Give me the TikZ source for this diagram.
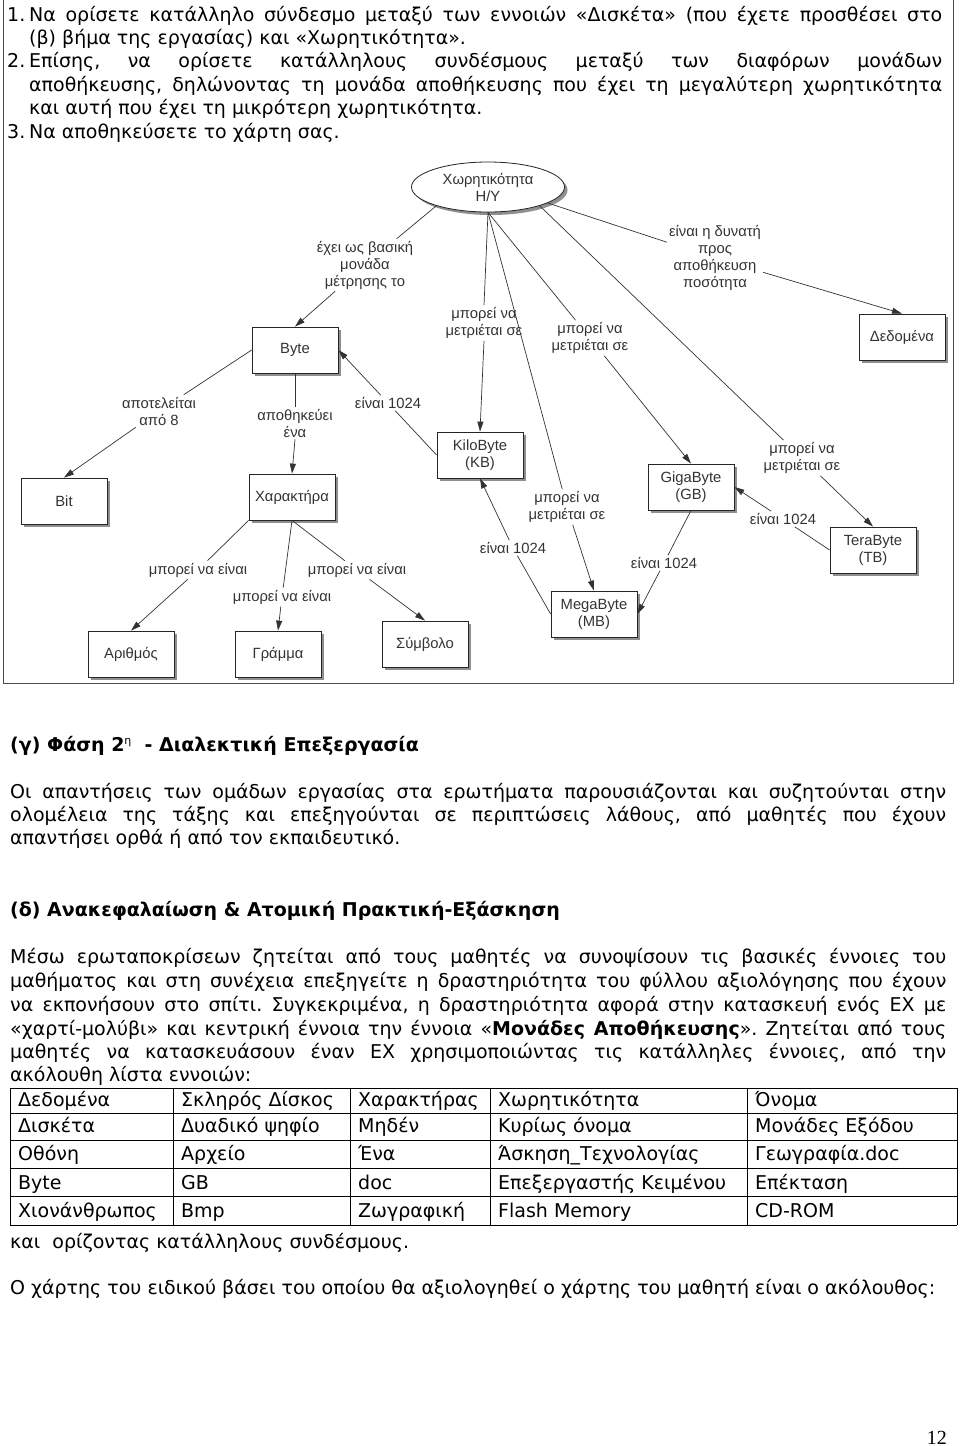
\documentclass[tikz,border=0pt]{standalone}
\usepackage{fontspec}
\setmainfont{DejaVu Sans}
\newfontfamily\mapfont{Liberation Sans}
\newfontfamily\pnfont{Liberation Serif}
\usetikzlibrary{shapes.geometric,arrows.meta,shadows}
\frenchspacing
\tikzset{
  txt/.style={anchor=base west, inner sep=0pt, font=\frenchspacing\fontsize{19}{23}\selectfont},
  cell/.style={anchor=base west, inner sep=0pt, font=\fontsize{19}{23}\selectfont},
  shad/.style={drop shadow={shadow xshift=3pt, shadow yshift=-3pt, fill=black!55, opacity=0.8}},
  box/.style={draw=black!85, line width=0.8pt, fill=white, minimum width=86pt, minimum height=46pt,
    inner sep=2pt, align=center, font=\mapfont\fontsize{14.8}{17}\selectfont, text=black!80, shad},
  ell/.style={ellipse, draw=black!85, line width=0.8pt, fill=white, minimum width=153pt, minimum height=50pt,
    inner sep=0pt, align=center, font=\mapfont\fontsize{14.8}{17}\selectfont, text=black!80, shad},
  lbl/.style={inner sep=2pt, align=center, font=\mapfont\fontsize{14.8}{17}\selectfont, text=black!80},
  con/.style={draw=black!80, line width=0.7pt},
  arr/.style={con, -{Triangle[length=10pt,width=6pt]}},
}
\begin{document}
\begin{tikzpicture}[x=1pt,y=-1pt]
\useasboundingbox (0,0) rectangle (960,1446);
\fill[white] (0,0) rectangle (960,1446);

% ---------- instructions ----------
\node[txt] (n1) at (7,21) {1.};
\node[txt] (t1) at (29,21) {\makebox[913pt][s]{Να ορίσετε κατάλληλο σύνδεσμο μεταξύ των εννοιών «Δισκέτα» (που έχετε προσθέσει στο}};
\node[txt] (t2) at (29,44.4) {(β) βήμα της εργασίας) και «Χωρητικότητα».};
\node[txt] (n2) at (7,67.8) {2.};
\node[txt] (t3) at (29,67.8) {\makebox[913pt][s]{Επίσης, να ορίσετε κατάλληλους συνδέσμους μεταξύ των διαφόρων μονάδων}};
\node[txt] (t4) at (29,91.2) {\makebox[913pt][s]{αποθήκευσης, δηλώνοντας τη μονάδα αποθήκευσης που έχει τη μεγαλύτερη χωρητικότητα}};
\node[txt] (t5) at (29,114.6) {και αυτή που έχει τη μικρότερη χωρητικότητα.};
\node[txt] (n3) at (7,138) {3.};
\node[txt] (t6) at (29,138) {Να αποθηκεύσετε το χάρτη σας.};

% ---------- frame ----------
\draw[black!70, line width=1pt] (3,-2) -- (3,683) -- (953,683) -- (953,-2);

% ---------- concept map nodes ----------
\node[ell] (hy) at (488,187) {Χωρητικότητα\\Η/Υ};
\node[box] (byte) at (295,350) {Byte};
\node[box] (bit) at (64,501) {Bit};
\node[box] (char) at (292,497) {Χαρακτήρα};
\node[box] (kb) at (480,455) {KiloByte\\(KB)};
\node[box] (data) at (902,337) {Δεδομένα};
\node[box] (gb) at (691,487) {GigaByte\\(GB)};
\node[box] (tb) at (873,550) {TeraByte\\(TB)};
\node[box] (mb) at (594,614) {MegaByte\\(MB)};
\node[box] (arith) at (131,654) {Αριθμός};
\node[box] (gramma) at (278,654) {Γράμμα};
\node[box] (symbol) at (425,644) {Σύμβολο};

\node[lbl] (l1) at (365,265) {έχει ως βασική\\μονάδα\\μέτρησης το};
\node[lbl] (l2) at (484,323) {μπορεί να\\μετριέται σε};
\node[lbl] (l3) at (590,338) {μπορεί να\\μετριέται σε};
\node[lbl] (l4) at (715,258) {είναι η δυνατή\\προς\\αποθήκευση\\ποσότητα};
\node[lbl] (l5) at (159,411) {αποτελείται\\από 8};
\node[lbl] (l6) at (295,423) {αποθηκεύει\\ένα};
\node[lbl] (l7) at (388,403) {είναι 1024};
\node[lbl] (l8) at (567,507) {μπορεί να\\μετριέται σε};
\node[lbl] (l9) at (802,458) {μπορεί να\\μετριέται σε};
\node[lbl] (l10) at (513,548) {είναι 1024};
\node[lbl] (l11) at (664,563) {είναι 1024};
\node[lbl] (l12) at (783,519) {είναι 1024};
\node[lbl] (l13) at (198,570) {μπορεί να είναι};
\node[lbl] (l14) at (282,597) {μπορεί να είναι};
\node[lbl] (l15) at (357,570) {μπορεί να είναι};

% ---------- connectors ----------
\draw[con] (hy.-160) -- (l1);
\draw[arr] (l1) -- (byte.north);
\draw[con] (hy.south) -- (l2.north);
\draw[arr] (l2.south) -- (kb.north);
\draw[con] (hy.south) -- (l8);
\draw[arr] (l8) -- (mb.north);
\draw[con] (hy.south) -- (l3);
\draw[arr] (l3) -- (gb.north);
\draw[con] (hy.-20) -- (l9);
\draw[arr] (l9) -- (tb.north);
\draw[con] (hy.-15) -- (l4);
\draw[arr] (l4) -- (data.north);
\draw[con] (byte.west) -- (l5);
\draw[arr] (l5) -- (bit.north);
\draw[con] (byte.south) -- (l6.north);
\draw[arr] (l6.south) -- (char.north);
\draw[con] (kb.west) -- (l7);
\draw[arr] (l7) -- (byte.east);
\draw[con] (char.south west) -- (l13);
\draw[arr] (l13) -- (arith.north);
\draw[con] (char.south) -- (l14);
\draw[arr] (l14) -- (gramma.north);
\draw[con] (char.south) -- (l15);
\draw[arr] (l15) -- (symbol.north);
\draw[con] (mb.west) -- (l10);
\draw[arr] (l10) -- (kb.south);
\draw[con] (gb.south) -- (l11);
\draw[arr] (l11) -- (mb.east);
\draw[con] (tb.west) -- (l12);
\draw[arr] (l12) -- (gb.east);

% ---------- section (gamma) ----------
\node[txt] (hg) at (10,751) {\textbf{(γ) Φάση 2}\raisebox{7pt}{\fontsize{11}{11}\selectfont η}\textbf{\ \ - Διαλεκτική Επεξεργασία}};
\node[txt] (g1) at (10,798) {\makebox[936pt][s]{Οι απαντήσεις των ομάδων εργασίας στα ερωτήματα παρουσιάζονται και συζητούνται στην}};
\node[txt] (g2) at (10,821) {\makebox[936pt][s]{ολομέλεια της τάξης και επεξηγούνται σε περιπτώσεις λάθους, από μαθητές που έχουν}};
\node[txt] (g3) at (10,844) {απαντήσει ορθά ή από τον εκπαιδευτικό.};

% ---------- section (delta) ----------
\node[txt] (hd) at (10,916) {\textbf{(δ) Ανακεφαλαίωση \& Ατομική Πρακτική-Εξάσκηση}};
\node[txt] (d1) at (10,963) {\makebox[936pt][s]{Μέσω ερωταποκρίσεων ζητείται από τους μαθητές να συνοψίσουν τις βασικές έννοιες του}};
\node[txt] (d2) at (10,987) {\makebox[936pt][s]{μαθήματος και στη συνέχεια επεξηγείτε η δραστηριότητα του φύλλου αξιολόγησης που έχουν}};
\node[txt] (d3) at (10,1011) {\makebox[936pt][s]{να εκπονήσουν στο σπίτι. Συγκεκριμένα, η δραστηριότητα αφορά στην κατασκευή ενός ΕΧ με}};
\node[txt] (d4) at (10,1035) {\makebox[936pt][s]{«χαρτί-μολύβι» και κεντρική έννοια την έννοια «\textbf{Μονάδες Αποθήκευσης}». Ζητείται από τους}};
\node[txt] (d5) at (10,1058) {\makebox[936pt][s]{μαθητές να κατασκευάσουν έναν ΕΧ χρησιμοποιώντας τις κατάλληλες έννοιες, από την}};
\node[txt] (d6) at (10,1081) {ακόλουθη λίστα εννοιών:};

% ---------- table ----------
\draw[black, line width=0.9pt]
  (10,1088) -- (957,1088) (10,1113) -- (957,1113) (10,1140) -- (957,1140)
  (10,1168) -- (957,1168) (10,1196) -- (957,1196) (10,1225) -- (957,1225)
  (10,1088) -- (10,1225) (173,1088) -- (173,1225) (350,1088) -- (350,1225)
  (490,1088) -- (490,1225) (747,1088) -- (747,1225) (957,1088) -- (957,1225);
\node[cell] (c11) at (18,1106) {Δεδομένα};
\node[cell] (c12) at (181,1106) {Σκληρός Δίσκος};
\node[cell] (c13) at (358,1106) {Χαρακτήρας};
\node[cell] (c14) at (498,1106) {Χωρητικότητα};
\node[cell] (c15) at (755,1106) {Όνομα};
\node[cell] (c21) at (18,1132) {Δισκέτα};
\node[cell] (c22) at (181,1132) {Δυαδικό ψηφίο};
\node[cell] (c23) at (358,1132) {Μηδέν};
\node[cell] (c24) at (498,1132) {Κυρίως όνομα};
\node[cell] (c25) at (755,1132) {Μονάδες Εξόδου};
\node[cell] (c31) at (18,1160) {Οθόνη};
\node[cell] (c32) at (181,1160) {Αρχείο};
\node[cell] (c33) at (358,1160) {Ένα};
\node[cell] (c34) at (498,1160) {Άσκηση\_Τεχνολογίας};
\node[cell] (c35) at (755,1160) {Γεωγραφία.doc};
\node[cell] (c41) at (18,1189) {Byte};
\node[cell] (c42) at (181,1189) {GB};
\node[cell] (c43) at (358,1189) {doc};
\node[cell] (c44) at (498,1189) {Επεξεργαστής Κειμένου};
\node[cell] (c45) at (755,1189) {Επέκταση};
\node[cell] (c51) at (18,1217) {Χιονάνθρωπος};
\node[cell] (c52) at (181,1217) {Bmp};
\node[cell] (c53) at (358,1217) {Ζωγραφική};
\node[cell] (c54) at (498,1217) {Flash Memory};
\node[cell] (c55) at (755,1217) {CD-ROM};

\node[txt] (e1) at (10,1248) {και\ \ ορίζοντας κατάλληλους συνδέσμους.};
\node[txt] (e2) at (10,1294) {Ο χάρτης του ειδικού βάσει του οποίου θα αξιολογηθεί ο χάρτης του μαθητή είναι ο ακόλουθος:};

\node[anchor=base east, inner sep=0pt, font=\pnfont\fontsize{20}{22}\selectfont] (pg) at (947,1444) {12};
\end{tikzpicture}
\end{document}
